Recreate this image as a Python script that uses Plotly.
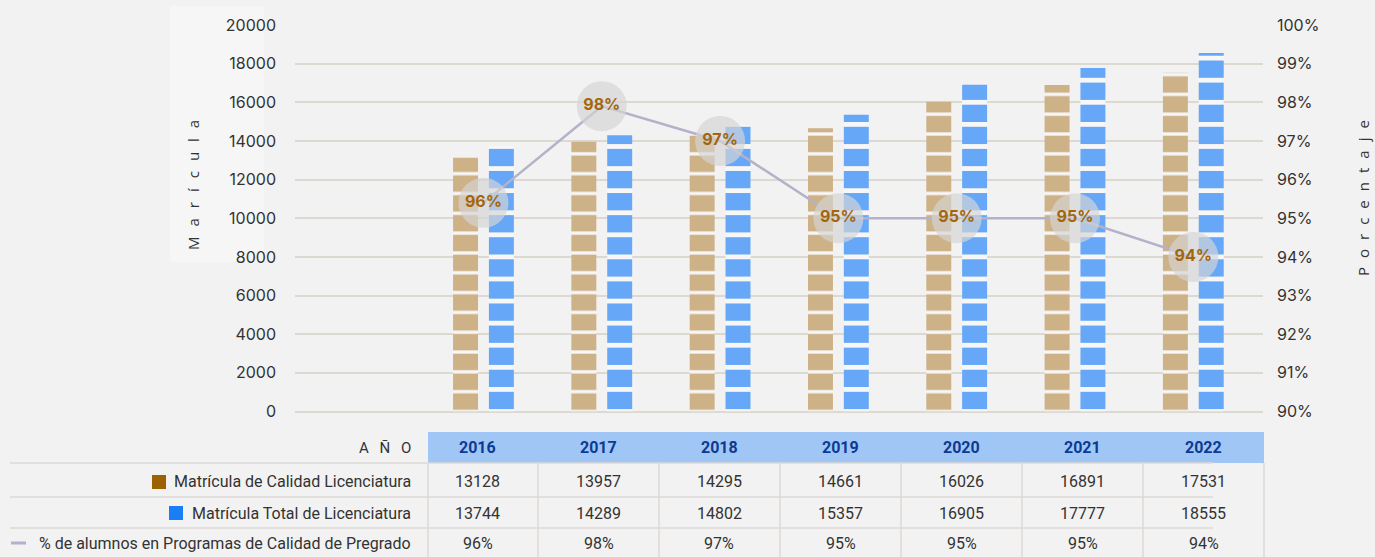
import plotly.graph_objects as go

# ---------------- data ----------------
years = ["2016", "2017", "2018", "2019", "2020", "2021", "2022"]
x_pos = [1, 2, 3, 4, 5, 6, 7]
calidad = [13128, 13957, 14295, 14661, 16026, 16891, 17531]
total = [13744, 14289, 14802, 15357, 16905, 17777, 18555]
pct_values = [95.4, 97.9, 97.0, 95.0, 95.0, 95.0, 94.0]
pct_labels = ["96%", "98%", "97%", "95%", "95%", "95%", "94%"]

row_labels = [
    "Matrícula de Calidad Licenciatura",
    "Matrícula Total de Licenciatura",
    "% de alumnos en Programas de Calidad de Pregrado",
]

# ---------------- layout helpers ----------------
W, H = 1375, 557
PL, PR, PT, PB = 295, 1263, 25, 411.5
XR = (-0.593, 7.589)


def px(p):
    return p / W


def py(p):
    return 1 - p / H


def spaced(s, sep):
    return sep.join(list(s))


BROWN = "#cdb187"
BLUE = "#66a8f7"
LINE = "#b4b1c9"
TXT = "#333333"
GRID = "#dcd9d3"

fig = go.Figure()

plot_h = PB - PT
fig.add_trace(go.Bar(
    x=x_pos, y=calidad, width=0.211, offset=-0.257,
    marker=dict(color=BROWN, line_width=0,
                pattern=dict(shape="-", fillmode="overlay", fgcolor="#f7f7f7",
                             fgopacity=1, size=plot_h / 19.5, solidity=0.17)),
    showlegend=False, hoverinfo="skip"))
fig.add_trace(go.Bar(
    x=x_pos, y=total, width=0.211, offset=0.046,
    marker=dict(color=BLUE, line_width=0,
                pattern=dict(shape="-", fillmode="overlay", fgcolor="#f7f7f7",
                             fgopacity=1, size=plot_h / 17.5, solidity=0.22)),
    showlegend=False, hoverinfo="skip"))
fig.add_trace(go.Scatter(
    x=x_pos, y=pct_values, yaxis="y2", mode="lines+markers+text",
    text=pct_labels, textposition="middle center",
    textfont=dict(family="Inter", size=16, color="#a3660c", weight="bold"),
    line=dict(color=LINE, width=2.5),
    marker=dict(size=50, color="rgba(212,212,212,0.68)", line_width=0),
    showlegend=False, hoverinfo="skip"))

tickfont = dict(family="Inter", size=16, color=TXT)
fig.update_layout(
    template="none",
    width=W, height=H, autosize=False,
    margin=dict(l=0, r=0, t=0, b=0, pad=0),
    paper_bgcolor="#f2f2f2", plot_bgcolor="rgba(0,0,0,0)",
    barmode="overlay", showlegend=False,
    xaxis=dict(range=list(XR), domain=[px(PL), px(PR)], showgrid=False,
               zeroline=False, showticklabels=False, fixedrange=True,
               automargin=False, showline=False, ticks=""),
    yaxis=dict(range=[0, 20000], domain=[py(PB), py(PT)], dtick=2000,
               tickformat="d", showgrid=True, gridcolor=GRID, gridwidth=1.5,
               zeroline=True, zerolinecolor=GRID, zerolinewidth=1.5,
               tickfont=tickfont, ticklabelstandoff=18,
               showline=False, automargin=False, ticks=""),
    yaxis2=dict(range=[90, 100], overlaying="y", side="right", dtick=1,
                ticksuffix="%", showgrid=False, zeroline=False,
                tickfont=tickfont, ticklabelstandoff=13, automargin=False,
                showline=False, ticks=""),
)

shapes = []
ann = []


def text_ann(x, y, text, font, xanchor="center", angle=0):
    return dict(x=x, y=y, xref="paper", yref="paper", text=text,
                xanchor=xanchor, yanchor="middle", textangle=angle,
                showarrow=False, font=font)


# subtle lighter panel behind the left title
shapes.append(dict(type="rect", xref="paper", yref="paper", layer="below",
                   x0=px(170), x1=px(264), y0=py(262), y1=py(6),
                   fillcolor="#f6f6f6", line_width=0))

# axis titles
title_font = dict(family="Open Sans", size=15, color=TXT)
ann.append(text_ann(px(193), py(185), spaced("Marícula", "\u2002\u2009"),
                    title_font, angle=-90))
ann.append(text_ann(px(1363), py(198), spaced("Porcentaje", "\u2002\u200a"),
                    title_font, angle=-90))

# ---------------- table ----------------
HDR_T, HDR_B = 432, 463
ROWS = [463, 497, 528]
col_left = 428
col_edges = [538, 659, 780, 901, 1022, 1143, 1264]
col_centers = [477.5 + 121 * i for i in range(len(years))]

shapes.append(dict(type="rect", xref="paper", yref="paper", layer="below",
                   x0=px(col_left), x1=px(col_edges[-1]), y0=py(HDR_B),
                   y1=py(HDR_T), fillcolor="#9fc6f4", line_width=0))
for yb in ROWS:
    shapes.append(dict(type="line", xref="paper", yref="paper", layer="below",
                       x0=px(10), x1=px(1213), y0=py(yb), y1=py(yb),
                       line=dict(color="#dcd9d4", width=1.5)))
for xe in [col_left] + col_edges:
    shapes.append(dict(type="line", xref="paper", yref="paper", layer="below",
                       x0=px(xe), x1=px(xe), y0=py(HDR_B), y1=py(H),
                       line=dict(color="#dcd9d4", width=1.5)))

hdr_font = dict(family="Roboto", size=16, color="#0d3a93", weight="bold")
val_font = dict(family="Roboto", size=16, color=TXT)
lab_font = dict(family="Roboto", size=16, color=TXT)

ann.append(text_ann(px(413), py(447.5), spaced("AÑO", "\u2002\u2009"),
                    dict(family="Roboto", size=15, color=TXT), xanchor="right"))
row_centers = [482, 513, 543]
row_values = [[str(v) for v in calidad], [str(v) for v in total], pct_labels]
for i, cx in enumerate(col_centers):
    ann.append(text_ann(px(cx), py(447.5), years[i], hdr_font))
    for r in range(3):
        ann.append(text_ann(px(cx), py(row_centers[r]), row_values[r][i], val_font))
for r in range(3):
    ann.append(text_ann(px(413), py(row_centers[r]), row_labels[r], lab_font,
                        xanchor="right"))

# legend keys in table
shapes.append(dict(type="rect", xref="paper", yref="paper",
                   x0=px(152), x1=px(166), y0=py(489), y1=py(475),
                   fillcolor="#9c6200", line_width=0))
shapes.append(dict(type="rect", xref="paper", yref="paper",
                   x0=px(169), x1=px(183), y0=py(520), y1=py(506),
                   fillcolor="#1a7ef7", line_width=0))
shapes.append(dict(type="line", xref="paper", yref="paper",
                   x0=px(11), x1=px(26), y0=py(543), y1=py(543),
                   line=dict(color=LINE, width=3)))

fig.update_layout(shapes=shapes, annotations=ann)
fig.write_html("out.html",
               config={"displayModeBar": False},
               post_script="document.body.style.margin='0';"
                           "document.body.style.overflow='hidden';")
